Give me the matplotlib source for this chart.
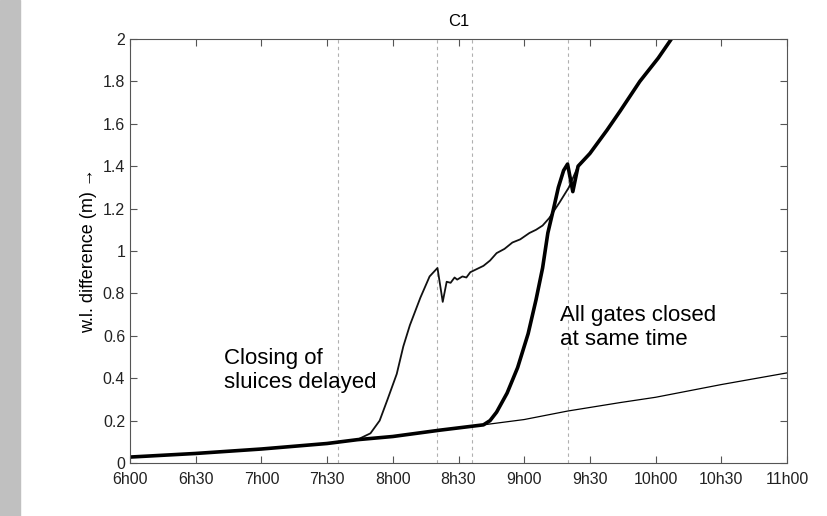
import numpy as np
import matplotlib.pyplot as plt
import matplotlib.patches as mpatches

plt.rcParams['font.family'] = ['Liberation Sans', 'DejaVu Sans']

# time in hours, water level difference in m
t_base = [6.0, 6.5, 7.0, 7.5, 7.73, 8.0, 8.36, 8.69, 9.0, 9.33, 9.73, 10.0, 10.5, 11.0]
h_base = [0.028, 0.045, 0.066, 0.092, 0.11, 0.125, 0.155, 0.18, 0.205, 0.245, 0.285, 0.31, 0.37, 0.425]

# all gates closed at same time (thick)
t_all = [6.0, 6.5, 7.0, 7.5, 7.73, 8.0, 8.36, 8.69, 8.74, 8.79, 8.87, 8.95, 9.03, 9.09,
         9.14, 9.18, 9.22, 9.26, 9.30, 9.33, 9.37, 9.41, 9.50, 9.63, 9.73, 9.88, 10.02, 10.12]
h_all = [0.028, 0.045, 0.066, 0.092, 0.11, 0.125, 0.155, 0.18, 0.20, 0.24, 0.33, 0.45, 0.61, 0.77,
         0.92, 1.085, 1.19, 1.30, 1.38, 1.41, 1.28, 1.40, 1.46, 1.57, 1.66, 1.80, 1.91, 2.0]

# closing of sluices delayed
t_del = [6.0, 6.5, 7.0, 7.5, 7.73, 7.83, 7.90, 7.96, 8.03, 8.08, 8.13, 8.21, 8.28, 8.34,
         8.38, 8.41, 8.44, 8.47, 8.49, 8.53, 8.56, 8.59, 8.64, 8.69, 8.74, 8.79, 8.85, 8.91,
         8.97, 9.04, 9.09, 9.14, 9.19, 9.27, 9.34, 9.41, 9.50, 9.63, 9.73, 9.88, 10.02, 10.12]
h_del = [0.028, 0.045, 0.066, 0.092, 0.11, 0.14, 0.20, 0.30, 0.42, 0.55, 0.65, 0.78, 0.88, 0.92,
         0.76, 0.855, 0.85, 0.875, 0.865, 0.88, 0.875, 0.90, 0.915, 0.93, 0.955, 0.99, 1.01, 1.04,
         1.055, 1.085, 1.10, 1.12, 1.155, 1.23, 1.30, 1.40, 1.46, 1.57, 1.66, 1.80, 1.91, 2.0]

t_lines = [7 + 35 / 60, 8 + 20 / 60, 8 + 36 / 60, 9 + 20 / 60]

xticks = [6 + 0.5 * i for i in range(11)]
xlabels = ['6h00', '6h30', '7h00', '7h30', '8h00', '8h30', '9h00', '9h30', '10h00', '10h30', '11h00']
yticks = [0, 0.2, 0.4, 0.6, 0.8, 1, 1.2, 1.4, 1.6, 1.8, 2]
ylabels = ['0', '0.2', '0.4', '0.6', '0.8', '1', '1.2', '1.4', '1.6', '1.8', '2']

fig = plt.figure(figsize=(8.27, 5.16), dpi=100)
# grey strip on the left edge
fig.patches.append(mpatches.Rectangle((0, 0), 20 / 827, 1, transform=fig.transFigure,
                                      color='#c0c0c0', zorder=-1))
ax = fig.add_axes([130 / 827, 1 - 463 / 516, 657 / 827, 424 / 516])

for t in t_lines:
    ax.axvline(t, color='#b0b0b0', lw=0.8, ls=(0, (3, 3)), zorder=0)

ax.plot(t_base, h_base, color='black', lw=0.9)
ax.plot(t_del, h_del, color='#111111', lw=1.3)
ax.plot(t_all, h_all, color='black', lw=2.6)

ax.set_xlim(6, 11)
ax.set_ylim(0, 2)
ax.set_xticks(xticks)
ax.set_xticklabels(xlabels)
ax.set_yticks(yticks)
ax.set_yticklabels(ylabels)
ax.tick_params(direction='in', top=True, right=True, labelsize=11.5, length=5,
               color='#555555', labelcolor='#222222')
ax.tick_params(axis='x', pad=6.5)
for s in ax.spines.values():
    s.set_color('#555555')

ax.set_title('C1', fontsize=12, pad=9)
ax.set_ylabel('w.l. difference (m) \u2192', fontsize=13, labelpad=4)

# baseline of the last line of each note
ax.text(6.715, 0.354, 'Closing of\nsluices delayed', fontsize=16, va='baseline', linespacing=1.2)
ax.text(9.27, 0.557, 'All gates closed\nat same time', fontsize=16, va='baseline', linespacing=1.2)

fig.savefig('out.png', dpi=100)
